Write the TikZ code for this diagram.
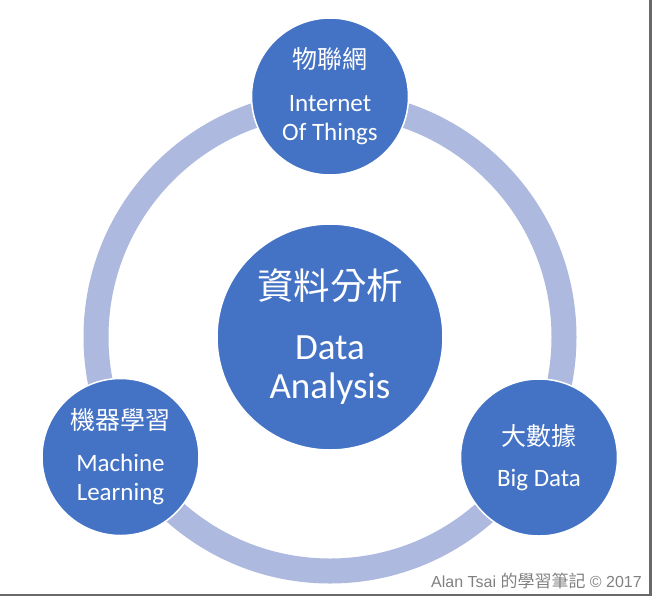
\documentclass[tikz,border=0pt]{standalone}
\usepackage{fontspec}
\setmainfont{Carlito}
\newfontfamily\cjk{Noto Sans CJK TC}
\newfontfamily\markfont{Liberation Sans}
\usetikzlibrary{positioning}
\definecolor{circleblue}{RGB}{68,114,196}
\definecolor{ringblue}{RGB}{173,185,222}
\definecolor{markgray}{RGB}{128,128,128}
\definecolor{shadowgray}{RGB}{105,105,105}

\begin{document}
\begin{tikzpicture}[
  x=1pt, y=-1pt,
  topic/.style={
    circle,
    fill=circleblue,
    draw=white,
    line width=1.5pt,
    minimum size=157pt,
    inner sep=0pt,
    text=white,
    align=center,
    font=\fontsize{25}{29}\selectfont
  },
  hub/.style={
    topic,
    minimum size=226pt,
    font=\fontsize{37}{39}\selectfont
  },
  ring/.style={circle, draw=ringblue, line width=25pt, inner sep=0pt}
]
\useasboundingbox (0,0) rectangle (654,598);

% the ring behind the three topics
\node[ring, minimum size=468pt] (ring) at (330,337) {};

\node[hub] (analysis) at (330,337) {
  {\cjk\fontsize{36.5}{39}\selectfont 資料分析}\\[21pt]
  Data\\
  Analysis
};

\node[topic] (iot) at (330,96.5) {
  {\cjk\fontsize{25}{29}\selectfont 物聯網}\\[14pt]
  Internet\\
  Of Things
};

\node[topic] (ml) at (120.5,457) {
  {\cjk\fontsize{25}{29}\selectfont 機器學習}\\[13pt]
  Machine\\
  Learning
};

\node[topic] (bigdata) at (539,457.5) {
  {\cjk\fontsize{25}{29}\selectfont 大數據}\\[12pt]
  Big Data
};

\node[
  anchor=base east,
  text=markgray,
  inner sep=0pt,
  font=\markfont\fontsize{16}{18}\selectfont
] (credit) at (642,587) {Alan Tsai {\cjk\fontsize{17}{18}\selectfont 的學習筆記} © 2017};

% frame shadow
\draw[shadowgray, line width=2.5pt] (650.5,0) -- (650.5,595) -- (0,595);

\end{tikzpicture}
\end{document}
